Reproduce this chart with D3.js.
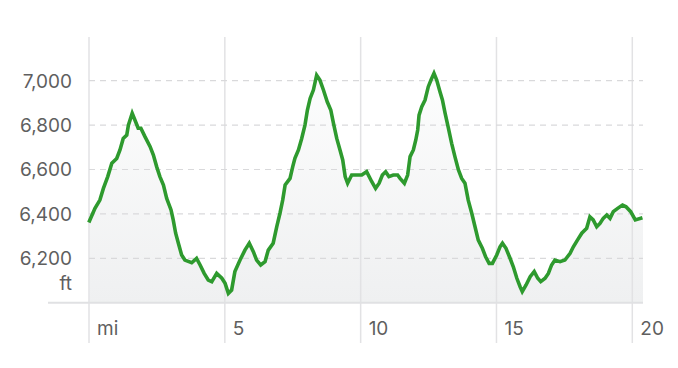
<!DOCTYPE html>
<html>
<head>
<meta charset="utf-8">
<script src="https://cdn.jsdelivr.net/npm/d3@7"></script>
<style>
  html, body { margin: 0; padding: 0; background: #fff; }
  svg { display: block; }
  text { font-family: Inter, "Noto Sans", sans-serif; fill: #5f5f5f; }
</style>
</head>
<body>
<svg id="chart" width="678" height="368"></svg>
<script>
// distance along trail (miles)
const miles = [0.02,0.22,0.40,0.53,0.69,0.84,1.02,1.14,1.26,1.39,1.45,1.59,1.69,1.81,1.91,2.06,2.25,2.37,2.49,2.61,2.74,2.86,3.02,3.10,3.19,3.29,3.41,3.53,3.78,3.96,4.09,4.24,4.39,4.52,4.70,4.89,5.01,5.13,5.25,5.37,5.56,5.74,5.90,6.05,6.17,6.32,6.48,6.60,6.78,6.91,7.03,7.13,7.22,7.40,7.50,7.58,7.71,7.83,7.95,8.04,8.14,8.26,8.38,8.50,8.63,8.77,8.90,9.00,9.12,9.24,9.34,9.43,9.52,9.67,9.86,10.04,10.22,10.41,10.55,10.68,10.80,10.92,11.04,11.20,11.36,11.45,11.61,11.73,11.82,11.94,12.03,12.10,12.15,12.25,12.37,12.49,12.59,12.70,12.80,12.92,13.01,13.11,13.23,13.35,13.47,13.60,13.72,13.84,13.96,14.09,14.21,14.33,14.48,14.60,14.73,14.85,15.01,15.13,15.22,15.35,15.50,15.62,15.75,15.87,15.95,16.09,16.24,16.39,16.52,16.63,16.79,16.91,17.03,17.15,17.34,17.52,17.71,17.83,17.98,18.14,18.32,18.44,18.56,18.69,18.81,18.93,19.06,19.18,19.30,19.46,19.64,19.77,19.94,20.11,20.31];
// elevation (ft)
const elevation = [6369,6425,6462,6515,6568,6628,6650,6688,6740,6755,6800,6853,6823,6786,6786,6748,6703,6665,6613,6568,6530,6470,6418,6373,6313,6268,6215,6192,6180,6200,6170,6132,6102,6095,6132,6110,6087,6042,6057,6140,6192,6237,6268,6230,6192,6170,6185,6237,6268,6342,6403,6462,6530,6560,6613,6650,6688,6740,6800,6868,6920,6958,7025,7003,6958,6905,6868,6808,6740,6688,6643,6568,6538,6575,6575,6575,6590,6545,6515,6538,6575,6590,6568,6575,6575,6560,6538,6575,6658,6688,6733,6778,6845,6883,6913,6973,7003,7033,7003,6950,6913,6853,6786,6718,6658,6598,6560,6538,6462,6403,6342,6282,6245,6207,6177,6177,6215,6252,6268,6245,6200,6162,6110,6072,6050,6080,6117,6140,6110,6095,6110,6132,6170,6192,6185,6192,6222,6252,6282,6313,6335,6387,6373,6342,6357,6380,6395,6380,6410,6425,6440,6432,6410,6373,6380];

const yTicks = [6200, 6400, 6600, 6800, 7000];
const yTickLabels = ["6,200", "6,400", "6,600", "6,800", "7,000"];
const xTicks = [0, 5, 10, 15, 20];
const xTickLabels = ["mi", "5", "10", "15", "20"];
const yUnit = "ft";

const data = miles.map((m, i) => ({ m, e: elevation[i] }));

const svg = d3.select("#chart");
const x = d3.scaleLinear().domain([0, 20]).range([89, 632.3]);
const y = d3.scaleLinear().domain([6000, 7000]).range([302.7, 80.7]);

const plotRight = 643, plotTop = 37, axisLeft = 48, gridBottom = 343;
const base = y(6000);

// gradient for area
const defs = svg.append("defs");
const grad = defs.append("linearGradient").attr("id", "fillGrad")
  .attr("x1", 0).attr("y1", 0).attr("x2", 0).attr("y2", 1)
  .attr("gradientUnits", "userSpaceOnUse")
  .attr("x1", 0).attr("y1", plotTop).attr("x2", 0).attr("y2", base);
grad.append("stop").attr("offset", "0%").attr("stop-color", "#ffffff");
grad.append("stop").attr("offset", "100%").attr("stop-color", "#eff0f1");

// area under line, extended to plot right edge
const areaData = data.concat([{ m: x.invert(plotRight), e: elevation[elevation.length - 1] }]);
const area = d3.area().x(d => x(d.m)).y0(base).y1(d => y(d.e));
svg.append("path").datum(areaData).attr("d", area).attr("fill", "url(#fillGrad)");

// vertical grid lines
svg.append("g").selectAll("line").data(xTicks).join("line")
  .attr("x1", d => x(d)).attr("x2", d => x(d))
  .attr("y1", plotTop).attr("y2", gridBottom)
  .attr("stroke", "#e2e2e4").attr("stroke-width", 1.5);

// horizontal dashed grid lines
svg.append("g").selectAll("line").data(yTicks).join("line")
  .attr("x1", x(0)).attr("x2", plotRight)
  .attr("y1", d => y(d)).attr("y2", d => y(d))
  .attr("stroke", "#d9d9db").attr("stroke-width", 1.2)
  .attr("stroke-dasharray", "6,5");

// baseline
svg.append("line").attr("x1", axisLeft).attr("x2", plotRight)
  .attr("y1", base).attr("y2", base)
  .attr("stroke", "#e0e1e3").attr("stroke-width", 2);

// y labels
svg.append("g").selectAll("text").data(yTicks).join("text")
  .attr("x", 72).attr("y", d => y(d))
  .attr("dy", "0.36em")
  .attr("text-anchor", "end")
  .style("font-size", "19px")
  .text((d, i) => yTickLabels[i]);
svg.append("text").attr("x", 72).attr("y", 290)
  .attr("text-anchor", "end").style("font-size", "19px").text(yUnit);

// x labels
svg.append("g").selectAll("text").data(xTicks).join("text")
  .attr("x", d => x(d) + 8).attr("y", 335)
  .attr("text-anchor", "start")
  .style("font-size", "19px")
  .text((d, i) => xTickLabels[i]);

// elevation line
const line = d3.line().x(d => x(d.m)).y(d => y(d.e));
svg.append("path").datum(data).attr("d", line)
  .attr("fill", "none").attr("stroke", "#2e9a2e")
  .attr("stroke-width", 3.6).attr("stroke-linejoin", "miter").attr("stroke-linecap", "square");
</script>
</body>
</html>
